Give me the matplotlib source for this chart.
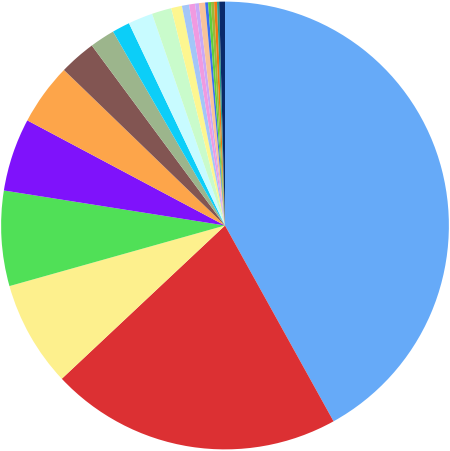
import matplotlib
matplotlib.use("Agg")
from matplotlib import pyplot as plt

# slice sizes in degrees
values = [151, 75.8, 27.5, 24.7, 19, 16, 9.5, 6.5, 4.6, 6.4, 5.1, 2.8,
          1.85, 1.55, 1.0, 1.6, 0.75, 0.75, 0.8, 0.75, 0.55, 1.5]
colors = ["#66aaf8", "#dc3033", "#fdf08d", "#50e057", "#7f12fb", "#fda54a",
          "#825552", "#9cb58c", "#0ccef8", "#c8fbff", "#c9fbcb", "#fdf690",
          "#a3c6f8", "#f09ae0", "#c8a8f8", "#f8c39a", "#3a6ef0", "#5ed03c",
          "#9ab83a", "#f07a10", "#2a9a8a", "#0a2a6a"]

fig = plt.figure(figsize=(4.5, 4.51), dpi=100)
ax = fig.add_axes([0, 0, 1, 1])
ax.pie(values, colors=colors, startangle=90, counterclock=False,
       wedgeprops={"linewidth": 0})
ax.set_aspect("equal")
ax.set_xlim(-1.005, 1.005)
ax.set_ylim(-1.005, 1.005)
fig.savefig("out.png", dpi=100)
